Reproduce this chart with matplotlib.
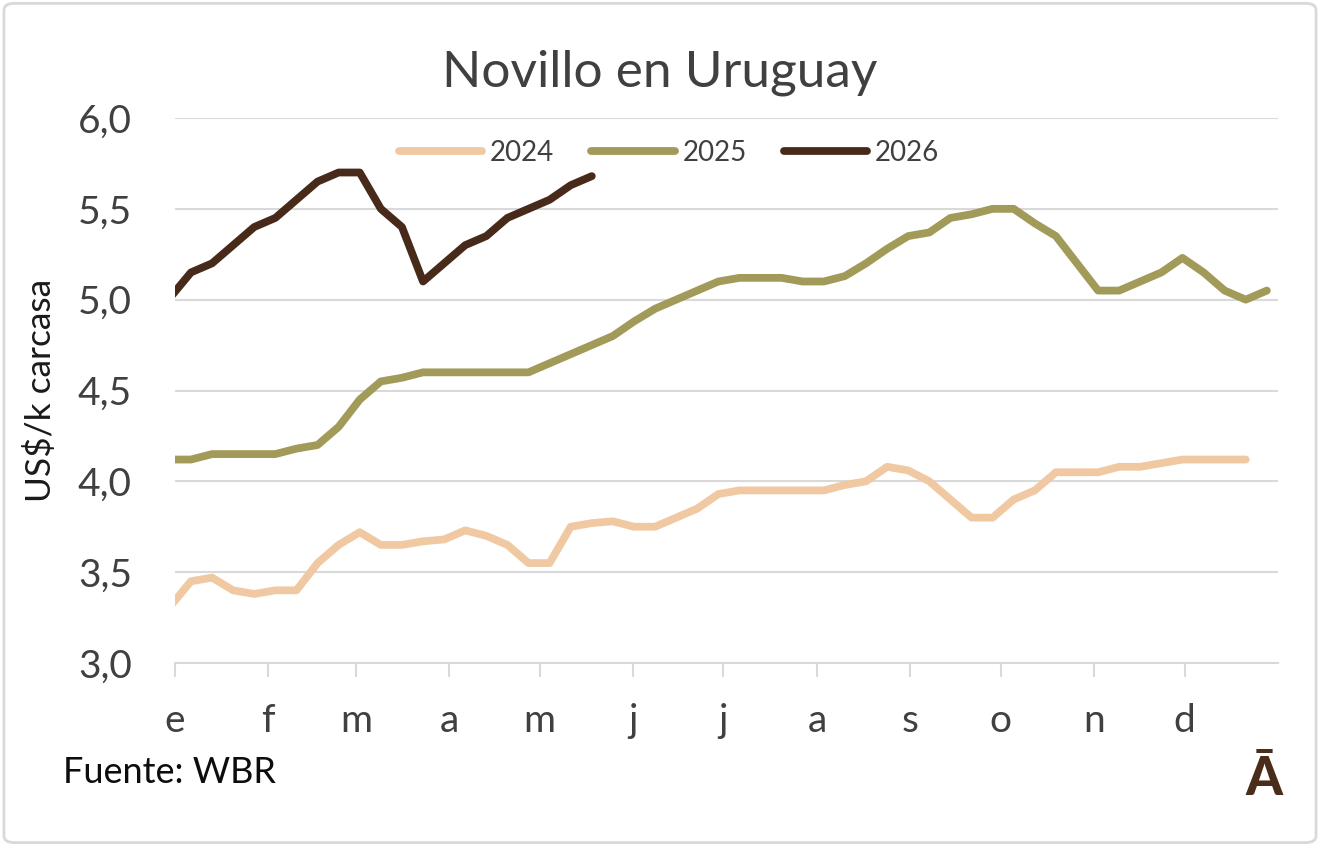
import numpy as np
import matplotlib
matplotlib.use("Agg")
import matplotlib.pyplot as plt
from matplotlib.patches import FancyBboxPatch
from matplotlib.ticker import FuncFormatter

plt.rcParams['font.family'] = ['Lato', 'DejaVu Sans']

# month starts (day of year) and labels
month_start_days = [0, 31, 60, 91, 121, 152, 182, 213, 244, 274, 305, 335]
month_labels = ['e', 'f', 'm', 'a', 'm', 'j', 'j', 'a', 's', 'o', 'n', 'd']

# weekly prices, US$/k carcasa (first value is the week just before Jan 1)
y2024 = [3.31, 3.45, 3.47, 3.40, 3.38, 3.40, 3.40, 3.55, 3.65, 3.72,
         3.65, 3.65, 3.67, 3.68, 3.73, 3.70, 3.65, 3.55, 3.55, 3.75,
         3.77, 3.78, 3.75, 3.75, 3.80, 3.85, 3.93, 3.95, 3.95, 3.95,
         3.95, 3.95, 3.98, 4.00, 4.08, 4.06, 4.00, 3.90, 3.80, 3.80,
         3.90, 3.95, 4.05, 4.05, 4.05, 4.08, 4.08, 4.10, 4.12, 4.12,
         4.12, 4.12]
y2025 = [4.12, 4.12, 4.15, 4.15, 4.15, 4.15, 4.18, 4.20, 4.30, 4.45,
         4.55, 4.57, 4.60, 4.60, 4.60, 4.60, 4.60, 4.60, 4.65, 4.70,
         4.75, 4.80, 4.88, 4.95, 5.00, 5.05, 5.10, 5.12, 5.12, 5.12,
         5.10, 5.10, 5.13, 5.20, 5.28, 5.35, 5.37, 5.45, 5.47, 5.50,
         5.50, 5.42, 5.35, 5.20, 5.05, 5.05, 5.10, 5.15, 5.23, 5.15,
         5.05, 5.00, 5.05]
y2026 = [5.01, 5.15, 5.20, 5.30, 5.40, 5.45, 5.55, 5.65, 5.70, 5.70,
         5.50, 5.40, 5.10, 5.20, 5.30, 5.35, 5.45, 5.50, 5.55, 5.63,
         5.68]

series = [('2024', y2024, '#F0C9A2'),
          ('2025', y2025, '#A29A58'),
          ('2026', y2026, '#472A1A')]

W, H = 1320, 846
fig = plt.figure(figsize=(W / 100, H / 100), dpi=100)
ax = fig.add_axes([175 / W, 1 - 663 / H, (1278 - 175) / W, (663 - 118) / H])

for name, vals, col in series:
    x = np.arange(len(vals)) * 7 - 1.7
    ax.plot(x, vals, color=col, lw=5.6, label=name,
            solid_capstyle='round', solid_joinstyle='round')

ax.set_xlim(0, 366)
ax.set_ylim(3, 6)
ax.set_yticks(np.arange(3, 6.01, 0.5))
ax.yaxis.set_major_formatter(FuncFormatter(lambda v, p: f'{v:.1f}'.replace('.', ',')))
ax.set_xticks(month_start_days)
ax.set_xticklabels(month_labels)

grid_col = '#D9D9D9'
ax.grid(axis='y', color=grid_col, lw=1.5)
ax.set_axisbelow(True)
for s in ['left', 'right', 'top']:
    ax.spines[s].set_visible(False)
ax.spines['bottom'].set_color(grid_col)
ax.spines['bottom'].set_linewidth(1.5)
ax.tick_params(axis='y', length=0, pad=31, labelsize=28, labelcolor='#404040')
ax.tick_params(axis='x', length=10, width=1.5, color=grid_col, pad=19,
               labelsize=28, labelcolor='#404040')

fig.text(0.5, 1 - 87 / H, 'Novillo en Uruguay', ha='center', va='baseline',
         fontsize=37, color='#404040')
fig.text(41 / W, 1 - 390 / H, 'US$/k carcasa', rotation=90, ha='center',
         va='center', fontsize=25.5, color='#1A1A1A')
fig.text(63 / W, 1 - 783 / H, 'Fuente: WBR', ha='left', va='baseline',
         fontsize=26, color='#0D0D0D')
fig.text(1264 / W, 1 - 795 / H, '\u0100', ha='center', va='baseline',
         fontsize=38, fontweight='black', color='#4A2C1A')

ax.legend(loc='center', bbox_to_anchor=(669 / W, 1 - 153 / H),
          bbox_transform=fig.transFigure, ncol=3, frameon=False,
          fontsize=20, handlelength=3.0, handletextpad=0.28,
          columnspacing=1.33, borderpad=0, labelcolor='#404040')

border = FancyBboxPatch((0.003, 0.004), 0.994, 0.992,
                        boxstyle='round,pad=0,rounding_size=0.008',
                        transform=fig.transFigure, fill=False,
                        ec=grid_col, lw=2)
fig.patches.append(border)

fig.savefig('out.png', dpi=100, facecolor='white')
